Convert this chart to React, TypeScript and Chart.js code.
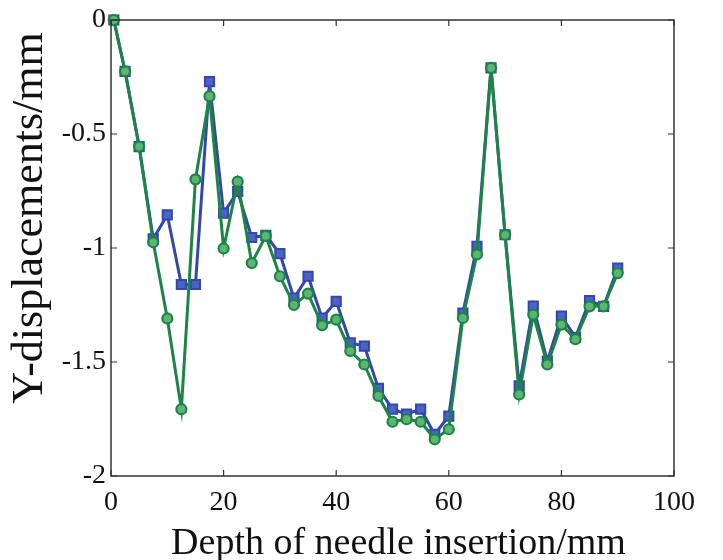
import React, { useEffect, useRef } from "react";
import { Chart, registerables } from "chart.js";

Chart.register(...registerables);

const depthMm = [0.5, 2.5, 5, 7.5, 10, 12.5, 15, 17.5, 20, 22.5, 25, 27.5, 30, 32.5, 35, 37.5, 40, 42.5, 45, 47.5, 50, 52.5, 55, 57.5, 60, 62.5, 65, 67.5, 70, 72.5, 75, 77.5, 80, 82.5, 85, 87.5, 90];

const blueSeries = [0, -0.225, -0.555, -0.96, -0.855, -1.16, -1.16, -0.27, -0.847, -0.752, -0.954, -0.945, -1.025, -1.22, -1.124, -1.307, -1.234, -1.416, -1.43, -1.616, -1.707, -1.729, -1.707, -1.817, -1.737, -1.285, -0.993, -0.21, -0.942, -1.605, -1.255, -1.496, -1.299, -1.392, -1.231, -1.256, -1.088];

const greenSeries = [0, -0.225, -0.555, -0.975, -1.309, -1.707, -0.699, -0.334, -1.002, -0.709, -1.066, -0.947, -1.124, -1.25, -1.2, -1.339, -1.314, -1.452, -1.511, -1.649, -1.762, -1.751, -1.762, -1.839, -1.795, -1.307, -1.028, -0.21, -0.942, -1.642, -1.292, -1.511, -1.336, -1.4, -1.256, -1.256, -1.11];

const xTicks = [0, 20, 40, 60, 80, 100];
const yTicks = [0, -0.5, -1, -1.5, -2];

const xTitle = "Depth of needle insertion/mm";
const yTitle = "Y-displacements/mm";

const FONT = "'Liberation Serif', 'DejaVu Serif', serif";

const framePlugin = {
  id: "frameTicks",
  afterDatasetsDraw(chart: any) {
    const { ctx, chartArea, scales } = chart;
    const { left, right, top, bottom } = chartArea;
    ctx.save();
    ctx.strokeStyle = "#333";
    ctx.lineWidth = 1.5;
    ctx.strokeRect(left, top, right - left, bottom - top);
    ctx.lineWidth = 1.2;
    const len = 6;
    ctx.beginPath();
    xTicks.forEach((v) => {
      const px = scales.x.getPixelForValue(v);
      ctx.moveTo(px, bottom);
      ctx.lineTo(px, bottom - len);
      ctx.moveTo(px, top);
      ctx.lineTo(px, top + len);
    });
    yTicks.forEach((v) => {
      const py = scales.y.getPixelForValue(v);
      ctx.moveTo(left, py);
      ctx.lineTo(left + len, py);
      ctx.moveTo(right, py);
      ctx.lineTo(right - len, py);
    });
    ctx.stroke();
    ctx.restore();
  },
  afterDraw(chart: any) {
    const { ctx, chartArea } = chart;
    ctx.save();
    ctx.fillStyle = "#111";
    ctx.textAlign = "center";
    ctx.textBaseline = "alphabetic";
    ctx.font = `38px ${FONT}`;
    ctx.fillText(xTitle, (chartArea.left + chartArea.right) / 2 + 6, chartArea.bottom + 78);
    ctx.translate(chartArea.left - 81, chartArea.top + 198);
    ctx.rotate(-Math.PI / 2);
    ctx.textBaseline = "middle";
    ctx.font = `44px ${FONT}`;
    ctx.fillText(yTitle, 0, 0);
    ctx.restore();
  },
};

export default function App() {
  const ref = useRef<HTMLCanvasElement | null>(null);
  useEffect(() => {
    if (!ref.current) return;
    const chart = new Chart(ref.current, {
      type: "scatter",
      data: {
        datasets: [
          {
            label: "green",
            data: depthMm.map((x, i) => ({ x, y: greenSeries[i] })),
            showLine: true,
            borderColor: "#1c8546",
            borderWidth: 3,
            pointStyle: "circle",
            pointRadius: 5,
            pointBorderWidth: 2.2,
            pointBorderColor: "#1c8546",
            pointBackgroundColor: "#5cb572",
            clip: false,
          },
          {
            label: "blue",
            data: depthMm.map((x, i) => ({ x, y: blueSeries[i] })),
            showLine: true,
            borderColor: "#3347ad",
            borderWidth: 3,
            pointStyle: "rect",
            pointRadius: 6.5,
            pointBorderWidth: 2,
            pointBorderColor: "#3347ad",
            pointBackgroundColor: "#4b63c6",
            clip: false,
          },
        ],
      },
      options: {
        animation: false,
        responsive: true,
        maintainAspectRatio: false,
        layout: { padding: { top: 10, right: 41, left: 0, bottom: 0 } },
        plugins: { legend: { display: false }, tooltip: { enabled: false } },
        scales: {
          x: {
            type: "linear",
            min: 0,
            max: 100,
            afterBuildTicks: (s: any) => {
              s.ticks = xTicks.map((v) => ({ value: v }));
            },
            afterFit: (s: any) => {
              s.height = 84;
            },
            grid: { display: false, drawTicks: false },
            border: { display: false },
            ticks: {
              color: "#111",
              font: { family: FONT, size: 28 },
              padding: 10,
              maxRotation: 0,
            },
          },
          y: {
            type: "linear",
            min: -2,
            max: 0,
            afterBuildTicks: (s: any) => {
              s.ticks = yTicks.map((v) => ({ value: v }));
            },
            afterFit: (s: any) => {
              s.width = 103;
            },
            grid: { display: false, drawTicks: false },
            border: { display: false },
            ticks: {
              color: "#111",
              font: { family: FONT, size: 28, lineHeight: 0.5 },
              padding: 5,
              callback: (v: any) => String(v),
            },
          },
        },
      },
      plugins: [framePlugin],
    });
    return () => chart.destroy();
  }, []);
  return (
    <div style={{ width: 707, height: 552, position: "relative" }}>
      <canvas ref={ref} />
    </div>
  );
}
